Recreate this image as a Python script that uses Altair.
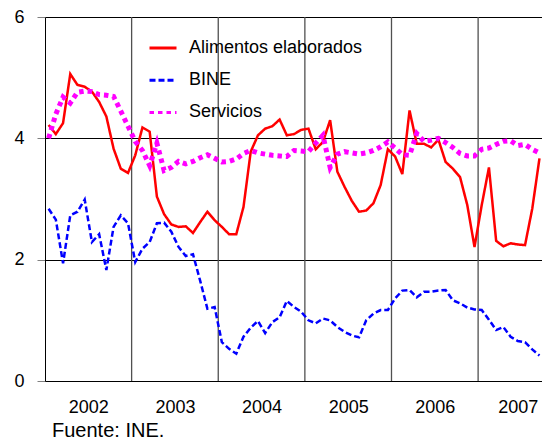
import altair as alt
import pandas as pd

series_names = ["Alimentos elaborados", "BINE", "Servicios"]

alimentos = [4.22, 4.07, 4.25, 5.06, 4.88, 4.85, 4.77, 4.60, 4.36, 3.83, 3.50, 3.43,
             3.72, 4.18, 4.11, 3.04, 2.75, 2.58, 2.54, 2.55, 2.44, 2.62, 2.79, 2.65,
             2.54, 2.42, 2.42, 2.87, 3.78, 4.05, 4.16, 4.20, 4.31, 4.05, 4.07, 4.14,
             4.16, 3.82, 3.94, 4.30, 3.45, 3.20, 2.97, 2.79, 2.81, 2.93, 3.23, 3.82,
             3.70, 3.41, 4.46, 3.91, 3.91, 3.85, 3.98, 3.61, 3.50, 3.36, 2.90, 2.21,
             2.90, 3.52, 2.31, 2.22, 2.27, 2.25, 2.24, 2.84, 3.67]

bine = [2.84, 2.66, 1.94, 2.73, 2.79, 2.99, 2.29, 2.42, 1.83, 2.54, 2.73, 2.60,
        1.96, 2.18, 2.29, 2.60, 2.61, 2.46, 2.21, 2.06, 2.09, 1.65, 1.19, 1.22,
        0.64, 0.53, 0.45, 0.73, 0.88, 0.99, 0.79, 0.97, 1.05, 1.32, 1.22, 1.14,
        1.00, 0.95, 1.03, 1.00, 0.89, 0.81, 0.75, 0.72, 1.00, 1.11, 1.17, 1.17,
        1.36, 1.49, 1.50, 1.38, 1.47, 1.47, 1.49, 1.50, 1.33, 1.28, 1.21, 1.18,
        1.17, 1.01, 0.84, 0.89, 0.73, 0.66, 0.64, 0.52, 0.42]

servicios = [4.00, 4.40, 4.68, 4.58, 4.76, 4.78, 4.77, 4.72, 4.71, 4.69, 4.45, 4.20,
             3.95, 3.80, 3.55, 3.92, 3.47, 3.52, 3.62, 3.58, 3.62, 3.68, 3.73, 3.67,
             3.61, 3.62, 3.66, 3.75, 3.80, 3.76, 3.74, 3.72, 3.71, 3.70, 3.80, 3.79,
             3.78, 3.92, 4.05, 3.52, 3.74, 3.78, 3.76, 3.74, 3.76, 3.80, 3.86, 3.94,
             3.84, 3.73, 3.72, 4.08, 3.95, 3.97, 4.00, 3.93, 3.85, 3.75, 3.71, 3.71,
             3.82, 3.84, 3.90, 3.95, 3.96, 3.88, 3.90, 3.82, 3.76]

year_labels = ["2002", "2003", "2004", "2005", "2006", "2007"]
year_label_pos = [6, 18, 30, 42, 54, 65.5]
year_bounds = [12, 24, 36, 48, 60]
y_ticks = [0, 2, 4, 6]
source_text = ["Fuente: INE."]

rows = []
for name, vals in zip(series_names, [alimentos, bine, servicios]):
    for i, v in enumerate(vals):
        rows.append({"serie": name, "mes": i + 0.5, "valor": v})
df = pd.DataFrame(rows)

FONT = "Liberation Sans"
# plot is 497 px wide at 7.22 px per month
xscale = alt.Scale(domain=[0, 68.85], nice=False, zero=False)
yscale = alt.Scale(domain=[0, 6], nice=False)

label_map = "{" + ",".join(f"'{p}':'{l}'" for p, l in zip(year_label_pos, year_labels)) + "}"


def make_legend():
    return alt.Legend(
        title=None, orient="none", legendX=103, legendY=16,
        labelFontSize=18, labelFont=FONT, labelColor="black", labelLimit=400,
        symbolType="stroke", symbolSize=729, symbolStrokeWidth=3,
        labelOffset=11, rowPadding=8.2,
    )


lines = alt.Chart(df).mark_line(strokeCap="butt", strokeJoin="miter", clip=True).encode(
    x=alt.X("mes:Q", scale=xscale, title=None,
            axis=alt.Axis(values=year_label_pos, labelExpr=f"{label_map}[toString(datum.value)]",
                          ticks=False, grid=False, domainColor="black", domainWidth=1,
                          labelFontSize=18, labelFont=FONT, labelColor="black",
                          labelPadding=17, labelFlush=False)),
    y=alt.Y("valor:Q", scale=yscale, title=None,
            axis=alt.Axis(values=y_ticks, tickSize=8, tickColor="#808080", grid=True,
                          gridColor="black", gridWidth=1, domainColor="black",
                          labelFontSize=18, labelFont=FONT, labelColor="black",
                          labelPadding=13)),
    color=alt.Color("serie:N", scale=alt.Scale(domain=series_names,
                                               range=["#FF0000", "#0000FF", "#FF00FF"]),
                    legend=make_legend()),
    strokeDash=alt.StrokeDash("serie:N", scale=alt.Scale(domain=series_names,
                                                        range=[[1, 0], [6, 3], [4.5, 4]]),
                              legend=make_legend()),
    strokeWidth=alt.condition(alt.datum.serie == "Servicios", alt.value(5), alt.value(2.5)),
    order=alt.Order("mes:Q"),
)

bounds = alt.Chart(pd.DataFrame({"b": year_bounds})).mark_rule(
    color="#505050", strokeWidth=1.3).encode(
    x=alt.X("b:Q", scale=xscale),
)

source = alt.Chart(pd.DataFrame({"t": source_text})).mark_text(
    align="left", baseline="alphabetic", fontSize=20, font=FONT, color="black").encode(
    text="t:N", x=alt.value(7), y=alt.value(419.5))

chart = alt.layer(bounds, lines, source).properties(
    width=497, height=364,
    autosize=alt.AutoSizeParams(type="none"),
    padding={"left": 37, "top": 9, "right": 0, "bottom": 67},
).configure_view(fill="#E0FFFF", stroke=None).configure(background="white")

chart.save("out.html", embed_options={"renderer": "svg", "actions": False})
